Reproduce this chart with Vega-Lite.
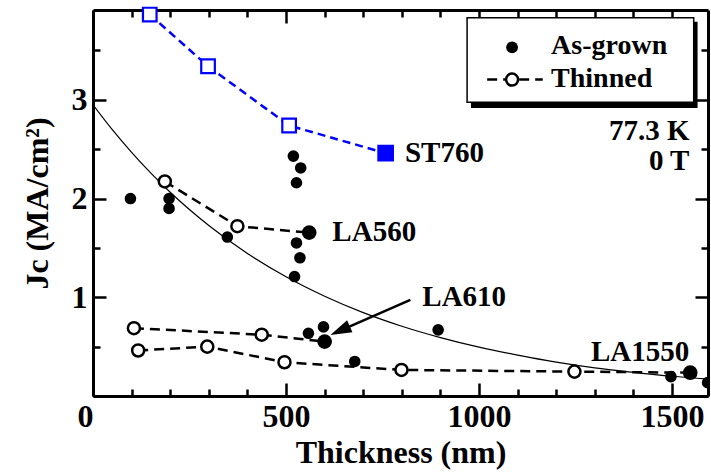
{
  "$schema": "https://vega.github.io/schema/vega-lite/v6.json",
  "width": 615,
  "height": 386,
  "autosize": {"type": "none"},
  "padding": {"left": 93, "top": 10, "right": 3, "bottom": 77},
  "config": {
    "view": {"stroke": null},
    "font": "Liberation Serif",
    "axis": {
      "domain": true, "domainColor": "black", "domainWidth": 3,
      "tickColor": "black", "grid": false,
      "labelFont": "Liberation Serif", "labelFontSize": 32, "labelFontWeight": "bold", "labelColor": "black",
      "titleFont": "Liberation Serif", "titleFontSize": 32, "titleFontWeight": "bold", "titleColor": "black",
      "zindex": 1
    }
  },
  "datasets": {
    "fit": [
      {"t": 0, "jc": 2.95}, {"t": 50, "jc": 2.698}, {"t": 100, "jc": 2.468}, {"t": 150, "jc": 2.257},
      {"t": 200, "jc": 2.064}, {"t": 300, "jc": 1.727}, {"t": 400, "jc": 1.444}, {"t": 500, "jc": 1.208},
      {"t": 600, "jc": 1.011}, {"t": 700, "jc": 0.845}, {"t": 800, "jc": 0.707}, {"t": 900, "jc": 0.592},
      {"t": 1000, "jc": 0.495}, {"t": 1100, "jc": 0.414}, {"t": 1200, "jc": 0.343}, {"t": 1300, "jc": 0.285},
      {"t": 1400, "jc": 0.240}, {"t": 1500, "jc": 0.200}, {"t": 1600, "jc": 0.168}
    ],
    "points": [
      {"sample": "", "state": "as-grown", "t": 97, "jc": 2.00},
      {"sample": "", "state": "as-grown", "t": 197, "jc": 2.00},
      {"sample": "", "state": "as-grown", "t": 197, "jc": 1.90},
      {"sample": "", "state": "as-grown", "t": 348, "jc": 1.61},
      {"sample": "", "state": "as-grown", "t": 519, "jc": 2.43},
      {"sample": "", "state": "as-grown", "t": 538, "jc": 2.31},
      {"sample": "", "state": "as-grown", "t": 527, "jc": 2.16},
      {"sample": "", "state": "as-grown", "t": 527, "jc": 1.55},
      {"sample": "", "state": "as-grown", "t": 536, "jc": 1.40},
      {"sample": "", "state": "as-grown", "t": 522, "jc": 1.21},
      {"sample": "", "state": "as-grown", "t": 558, "jc": 0.635},
      {"sample": "", "state": "as-grown", "t": 597, "jc": 0.70},
      {"sample": "", "state": "as-grown", "t": 678, "jc": 0.35},
      {"sample": "", "state": "as-grown", "t": 894, "jc": 0.67},
      {"sample": "", "state": "as-grown", "t": 1497, "jc": 0.196},
      {"sample": "", "state": "as-grown", "t": 1592, "jc": 0.135},
      {"sample": "LA560", "state": "thinned", "t": 186, "jc": 2.173},
      {"sample": "LA560", "state": "thinned", "t": 374, "jc": 1.72},
      {"sample": "LA560", "state": "as-grown", "t": 560, "jc": 1.655},
      {"sample": "LA610", "state": "thinned", "t": 106, "jc": 0.687},
      {"sample": "LA610", "state": "thinned", "t": 437, "jc": 0.621},
      {"sample": "LA610", "state": "as-grown", "t": 600, "jc": 0.551},
      {"sample": "LA1550", "state": "thinned", "t": 117, "jc": 0.461},
      {"sample": "LA1550", "state": "thinned", "t": 296, "jc": 0.50},
      {"sample": "LA1550", "state": "thinned", "t": 496, "jc": 0.342},
      {"sample": "LA1550", "state": "thinned", "t": 799, "jc": 0.264},
      {"sample": "LA1550", "state": "thinned", "t": 1247, "jc": 0.247},
      {"sample": "LA1550", "state": "as-grown", "t": 1547, "jc": 0.236},
      {"sample": "ST760", "state": "thinned", "t": 147, "jc": 3.864},
      {"sample": "ST760", "state": "thinned", "t": 298, "jc": 3.34},
      {"sample": "ST760", "state": "thinned", "t": 508, "jc": 2.74},
      {"sample": "ST760", "state": "as-grown", "t": 758, "jc": 2.46}
    ],
    "labels": [
      {"label": "ST760", "t": 808, "jc": 2.46},
      {"label": "LA560", "t": 620, "jc": 1.663},
      {"label": "LA610", "t": 853, "jc": 1.004},
      {"label": "LA1550", "t": 1290, "jc": 0.449},
      {"label": "77.3 K", "t": 1545, "jc": 2.68},
      {"label": "0 T", "t": 1545, "jc": 2.376}
    ],
    "one": [{}]
  },
  "layer": [
    {
      "data": {"name": "fit"},
      "mark": {"type": "line", "color": "black", "strokeWidth": 1.2, "interpolate": "monotone", "clip": true},
      "encoding": {
        "x": {
          "field": "t", "type": "quantitative",
          "scale": {"domain": [0, 1593], "nice": false, "zero": false},
          "axis": {
            "orient": "bottom",
            "values": [0, 100, 200, 300, 400, 500, 600, 700, 800, 900, 1000, 1100, 1200, 1300, 1400, 1500],
            "tickSize": {"condition": {"test": "datum.value % 500 === 0", "value": -13}, "value": -7},
            "tickWidth": 2.5,
            "labelExpr": "datum.value % 500 === 0 ? format(datum.value, 'd') : ''",
            "labelAlign": {"condition": {"test": "datum.value === 0", "value": "right"}, "value": "center"},
            "labelFlush": false, "labelBound": false, "labelOverlap": false,
            "labelPadding": 18,
            "title": "Thickness (nm)",
            "titlePadding": -1
          }
        },
        "y": {
          "field": "jc", "type": "quantitative",
          "scale": {"domain": [0, 3.91], "nice": false, "zero": false},
          "axis": {
            "orient": "left",
            "values": [0, 0.5, 1, 1.5, 2, 2.5, 3, 3.5],
            "tickSize": {"condition": {"test": "datum.value % 1 === 0", "value": -13}, "value": -7},
            "tickWidth": 2.5,
            "labelExpr": "datum.value > 0 && datum.value % 1 === 0 ? format(datum.value, 'd') : ''",
            "labelOverlap": false, "labelBound": false, "labelFlush": false,
            "labelPadding": 19,
            "title": "Jc (MA/cm²)",
            "titlePadding": 17
          }
        }
      }
    },
    {
      "data": {"name": "points"},
      "transform": [{"filter": "datum.sample !== '' && datum.sample !== 'ST760'"}],
      "mark": {"type": "line", "color": "black", "strokeWidth": 2.5, "strokeDash": [10, 6]},
      "encoding": {
        "x": {"field": "t", "type": "quantitative", "axis": null},
        "y": {"field": "jc", "type": "quantitative", "axis": null},
        "detail": {"field": "sample"},
        "order": {"field": "t", "type": "quantitative"}
      }
    },
    {
      "data": {"name": "points"},
      "transform": [{"filter": "datum.sample === 'ST760'"}],
      "mark": {"type": "line", "color": "#0000ff", "strokeWidth": 2.5, "strokeDash": [8, 5]},
      "encoding": {
        "x": {"field": "t", "type": "quantitative", "axis": null},
        "y": {"field": "jc", "type": "quantitative", "axis": null},
        "order": {"field": "t", "type": "quantitative"}
      }
    },
    {
      "data": {"name": "points"},
      "transform": [{"filter": "datum.state === 'as-grown' && datum.sample !== 'ST760'"}],
      "mark": {"type": "point", "shape": "circle", "filled": true, "color": "black", "opacity": 1, "clip": true},
      "encoding": {
        "x": {
          "field": "t", "type": "quantitative",
          "scale": {"domain": [0, 1593], "nice": false, "zero": false},
          "axis": {
            "orient": "top",
            "values": [0, 100, 200, 300, 400, 500, 600, 700, 800, 900, 1000, 1100, 1200, 1300, 1400, 1500],
            "tickSize": {"condition": {"test": "datum.value % 500 === 0", "value": -13}, "value": -7},
            "tickWidth": 2.5,
            "labels": false, "title": null
          }
        },
        "y": {
          "field": "jc", "type": "quantitative",
          "scale": {"domain": [0, 3.91], "nice": false, "zero": false},
          "axis": {
            "orient": "right",
            "values": [0, 0.5, 1, 1.5, 2, 2.5, 3, 3.5],
            "tickSize": {"condition": {"test": "datum.value % 1 === 0", "value": -13}, "value": -7},
            "tickWidth": 2.5,
            "labels": false, "title": null
          }
        },
        "size": {"condition": {"test": "datum.sample !== ''", "value": 215}, "value": 135}
      }
    },
    {
      "data": {"name": "points"},
      "transform": [{"filter": "datum.state === 'thinned' && datum.sample !== 'ST760'"}],
      "mark": {"type": "point", "shape": "circle", "filled": false, "fill": "white", "fillOpacity": 1, "stroke": "black", "strokeWidth": 2.5, "opacity": 1, "size": 145},
      "encoding": {
        "x": {"field": "t", "type": "quantitative", "axis": null},
        "y": {"field": "jc", "type": "quantitative", "axis": null}
      }
    },
    {
      "data": {"name": "points"},
      "transform": [{"filter": "datum.sample === 'ST760'"}],
      "mark": {"type": "point", "shape": "square", "stroke": "#0000ff", "strokeWidth": 2.2, "opacity": 1, "fillOpacity": 1},
      "encoding": {
        "x": {"field": "t", "type": "quantitative", "axis": null},
        "y": {"field": "jc", "type": "quantitative", "axis": null},
        "fill": {"condition": {"test": "datum.state === 'as-grown'", "value": "#0000ff"}, "value": "white"},
        "size": {"condition": {"test": "datum.state === 'as-grown'", "value": 210}, "value": 185}
      }
    },
    {
      "data": {"name": "labels"},
      "transform": [{"filter": "datum.label !== '77.3 K' && datum.label !== '0 T'"}],
      "mark": {"type": "text", "align": "left", "baseline": "middle", "font": "Liberation Serif", "fontSize": 29, "fontWeight": "bold", "color": "black"},
      "encoding": {
        "x": {"field": "t", "type": "quantitative", "axis": null},
        "y": {"field": "jc", "type": "quantitative", "axis": null},
        "text": {"field": "label"}
      }
    },
    {
      "data": {"name": "labels"},
      "transform": [{"filter": "datum.label === '77.3 K' || datum.label === '0 T'"}],
      "mark": {"type": "text", "align": "right", "baseline": "middle", "font": "Liberation Serif", "fontSize": 29, "fontWeight": "bold", "color": "black"},
      "encoding": {
        "x": {"field": "t", "type": "quantitative", "axis": null},
        "y": {"field": "jc", "type": "quantitative", "axis": null},
        "text": {"field": "label"}
      }
    },
    {
      "data": {"name": "one"},
      "mark": {"type": "rule", "color": "black", "strokeWidth": 2.5},
      "encoding": {
        "x": {"datum": 822, "type": "quantitative", "axis": null},
        "y": {"datum": 0.974, "type": "quantitative", "axis": null},
        "x2": {"datum": 630},
        "y2": {"datum": 0.645}
      }
    },
    {
      "data": {"name": "one"},
      "mark": {"type": "point", "shape": "M0,0L0.5,1.6L-0.5,1.6Z", "filled": true, "color": "black", "opacity": 1, "size": 700, "angle": 246},
      "encoding": {
        "x": {"datum": 615, "type": "quantitative", "axis": null},
        "y": {"datum": 0.619, "type": "quantitative", "axis": null}
      }
    },
    {
      "data": {"name": "one"},
      "mark": {"type": "rect", "color": "black"},
      "encoding": {
        "x": {"datum": 979, "type": "quantitative", "axis": null},
        "x2": {"datum": 1566},
        "y": {"datum": 3.79, "type": "quantitative", "axis": null},
        "y2": {"datum": 2.918}
      }
    },
    {
      "data": {"name": "one"},
      "mark": {"type": "rect", "fill": "white", "stroke": "black", "strokeWidth": 1.5},
      "encoding": {
        "x": {"datum": 969, "type": "quantitative", "axis": null},
        "x2": {"datum": 1556},
        "y": {"datum": 3.831, "type": "quantitative", "axis": null},
        "y2": {"datum": 2.975}
      }
    },
    {
      "data": {"name": "one"},
      "mark": {"type": "rule", "color": "black", "strokeWidth": 2.5, "strokeDash": [10, 6]},
      "encoding": {
        "x": {"datum": 1021, "type": "quantitative", "axis": null},
        "x2": {"datum": 1165},
        "y": {"datum": 3.205, "type": "quantitative", "axis": null}
      }
    },
    {
      "data": {"name": "one"},
      "mark": {"type": "point", "shape": "circle", "filled": true, "color": "black", "opacity": 1, "size": 140},
      "encoding": {
        "x": {"datum": 1085.5, "type": "quantitative", "axis": null},
        "y": {"datum": 3.532, "type": "quantitative", "axis": null}
      }
    },
    {
      "data": {"name": "one"},
      "mark": {"type": "point", "shape": "circle", "fill": "white", "fillOpacity": 1, "stroke": "black", "strokeWidth": 2.5, "opacity": 1, "size": 145},
      "encoding": {
        "x": {"datum": 1085.5, "type": "quantitative", "axis": null},
        "y": {"datum": 3.205, "type": "quantitative", "axis": null}
      }
    },
    {
      "data": {"name": "one"},
      "mark": {"type": "text", "text": "As-grown", "align": "left", "baseline": "middle", "font": "Liberation Serif", "fontSize": 28, "fontWeight": "bold", "color": "black"},
      "encoding": {
        "x": {"datum": 1186.5, "type": "quantitative", "axis": null},
        "y": {"datum": 3.547, "type": "quantitative", "axis": null}
      }
    },
    {
      "data": {"name": "one"},
      "mark": {"type": "text", "text": "Thinned", "align": "left", "baseline": "middle", "font": "Liberation Serif", "fontSize": 28, "fontWeight": "bold", "color": "black"},
      "encoding": {
        "x": {"datum": 1186.5, "type": "quantitative", "axis": null},
        "y": {"datum": 3.212, "type": "quantitative", "axis": null}
      }
    }
  ],
  "resolve": {"axis": {"x": "independent", "y": "independent"}}
}
